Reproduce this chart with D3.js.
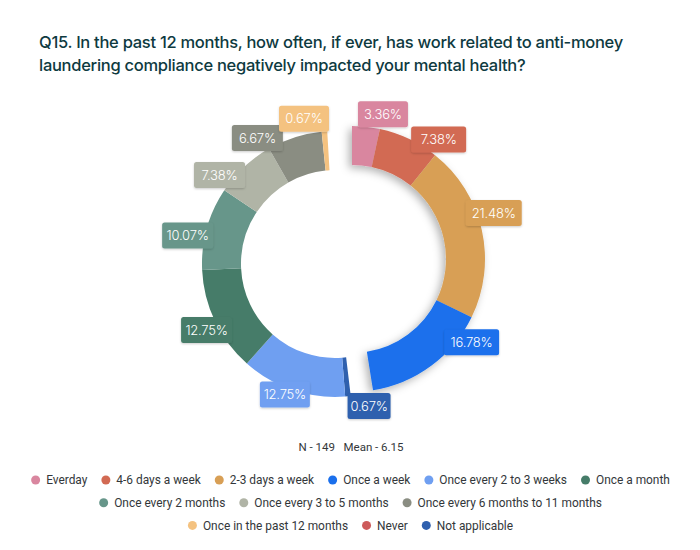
<!DOCTYPE html>
<html>
<head>
<meta charset="utf-8">
<script src="https://cdnjs.cloudflare.com/ajax/libs/d3/7.8.5/d3.min.js"></script>
<style>
  html, body { margin: 0; padding: 0; background: #fff; }
  svg { display: block; }
</style>
</head>
<body>
<svg id="chart"></svg>
<script>
// values
var categories = ["Everday", "4-6 days a week", "2-3 days a week", "Once a week",
  "Once every 2 to 3 weeks", "Once a month", "Once every 2 months", "Once every 3 to 5 months",
  "Once every 6 months to 11 months", "Once in the past 12 months", "Never", "Not applicable"];
var values = [3.36, 7.38, 21.48, 16.78, 12.75, 12.75, 10.07, 7.38, 6.67, 0.67, 0, 0.67];
var colors = ["#d9869f", "#d26a53", "#d89f55", "#1a6fec", "#6f9ff1", "#467c69",
  "#67968a", "#b0b4a6", "#8a8d82", "#f4c280", "#cd5a5a", "#2f60ae"];

// the ring is split in two halves that sit apart from each other
var rightHalf = [0, 1, 2, 3];
var leftHalf = [11, 4, 5, 6, 7, 8, 9];
var legendRows = [[0, 1, 2, 3, 4, 5], [6, 7, 8], [9, 10, 11]];

// label box offset from the slice centroid and box width, by category
var labelNudge = [[19, -32], [38, -17], [31, -21], [52, -8], [-14, 23], [-26, 17],
  [-38, 2], [-38, -6], [-43, -18], [-22, -32], [0, 0], [23, 29]];
var labelWidth = [50, 55, 56, 55, 50, 51, 51, 51, 51, 50, 0, 43];

var width = 700;
var height = 550;
var outerR = 133;
var innerR = 94;
var deg = Math.PI / 180;
var blueTrim = 5.5 * deg; // "Once a week" stops short of its full share

var svg = d3.select("#chart").attr("width", width).attr("height", height);

var defs = svg.append("defs");
var shadow = defs.append("filter").attr("id", "soft")
  .attr("x", "-20%").attr("y", "-20%").attr("width", "140%").attr("height", "140%");
shadow.append("feDropShadow").attr("dx", -3).attr("dy", 3).attr("stdDeviation", 4)
  .attr("flood-color", "#000").attr("flood-opacity", 0.3);
var boxShadow = defs.append("filter").attr("id", "boxsoft")
  .attr("x", "-20%").attr("y", "-20%").attr("width", "140%").attr("height", "140%");
boxShadow.append("feDropShadow").attr("dx", 0).attr("dy", 1).attr("stdDeviation", 1)
  .attr("flood-color", "#000").attr("flood-opacity", 0.2);

// title
var title = svg.append("g").attr("fill", "#0e3a3f")
  .style("font-family", "Inter, sans-serif").style("font-weight", 500)
  .style("font-size", "16.5px").style("letter-spacing", "-0.28px");
title.append("text").attr("x", 39).attr("y", 48)
  .text("Q15. In the past 12 months, how often, if ever, has work related to anti-money");
title.append("text").attr("x", 39).attr("y", 71)
  .text("laundering compliance negatively impacted your mental health?");

var arc = d3.arc().innerRadius(innerR).outerRadius(outerR);

function sumOf(idx) {
  return d3.sum(idx, function (i) { return values[i]; });
}

function drawHalf(idx, cx, cy, start, filter) {
  var pie = d3.pie().sort(null)
    .value(function (i) { return values[i]; })
    .startAngle(start)
    .endAngle(start + sumOf(idx) / 100 * 2 * Math.PI);
  var arcs = pie(idx);
  arcs.forEach(function (d) {
    if (d.data === 3) d.endAngle -= blueTrim;
  });
  var g = svg.append("g").attr("transform", "translate(" + cx + "," + cy + ")");
  if (filter) g.attr("filter", "url(#soft)");
  g.selectAll("path").data(arcs).enter().append("path")
    .attr("d", arc)
    .attr("fill", function (d) { return colors[d.data]; });
  return arcs.map(function (d) {
    var c = arc.centroid(d);
    return { i: d.data, x: cx + c[0], y: cy + c[1] };
  });
}

var left = drawHalf(leftHalf, 335, 264, 173.2 * deg, false);
var right = drawHalf(rightHalf, 352, 259, 0, true);

// value labels
var labels = svg.selectAll(".lab").data(left.concat(right)).enter().append("g")
  .attr("class", "lab")
  .attr("transform", function (d) {
    return "translate(" + (d.x + labelNudge[d.i][0]) + "," + (d.y + labelNudge[d.i][1]) + ")";
  });
labels.append("rect")
  .attr("x", function (d) { return -labelWidth[d.i] / 2; })
  .attr("y", -13)
  .attr("width", function (d) { return labelWidth[d.i]; })
  .attr("height", 26)
  .attr("rx", 2.5)
  .attr("fill", function (d) { return colors[d.i]; })
  .attr("filter", "url(#boxsoft)");
labels.append("text")
  .attr("text-anchor", "middle").attr("dy", 4.6)
  .attr("fill", "#fff")
  .style("font-family", "Inter, sans-serif").style("font-size", "13px").style("font-weight", 300)
  .style("letter-spacing", "-0.2px")
  .text(function (d) { return values[d.i].toFixed(2) + "%"; });

// footer note
svg.append("text").attr("x", 351).attr("y", 451).attr("text-anchor", "middle")
  .attr("fill", "#33373a")
  .style("font-family", "Roboto, sans-serif").style("font-size", "11.5px")
  .style("white-space", "pre")
  .text("N - 149   Mean - 6.15");

// legend, each row centred
legendRows.forEach(function (row, r) {
  var y = 480 + r * 22.7;
  var g = svg.append("g").style("font-family", "Roboto, sans-serif").style("font-size", "11.9px");
  var x = 0;
  var gap = 14;
  row.forEach(function (i) {
    g.append("circle").attr("cx", x + 4.5).attr("cy", y).attr("r", 4.5).attr("fill", colors[i]);
    var t = g.append("text").attr("x", x + 15).attr("y", y + 4.2).attr("fill", "#33373a").text(categories[i]);
    x += 15 + t.node().getComputedTextLength() + gap;
  });
  g.attr("transform", "translate(" + (350.5 - (x - gap) / 2) + ",0)");
});
</script>
</body>
</html>
